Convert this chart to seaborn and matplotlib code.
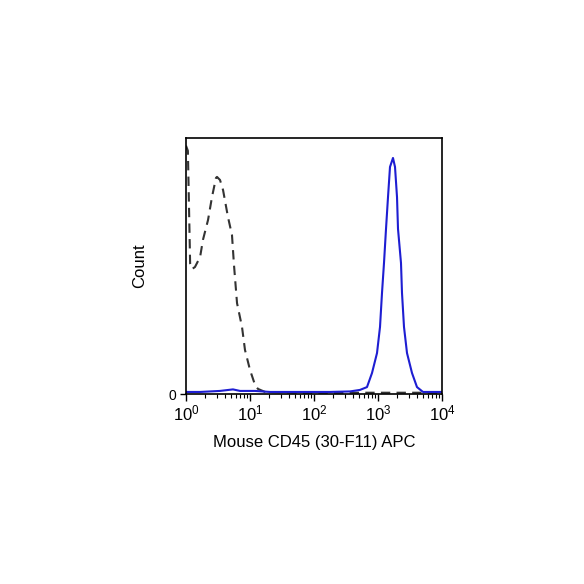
import numpy as np
import pandas as pd
import matplotlib
matplotlib.use("Agg")
import matplotlib.pyplot as plt
from matplotlib.ticker import LogLocator, FixedLocator, NullFormatter, FuncFormatter
import seaborn as sns

# isotype control (dashed gray)
control_intensity = [1.0, 1.07, 1.16, 1.24, 1.38, 1.66, 1.84, 2.21, 2.55, 2.94, 3.05,
                     3.40, 3.79, 4.53, 5.23, 5.62, 6.27, 7.50, 8.35, 10.0, 12.0, 13.3,
                     17.2, 60.0, 10000.0]
control_count = [97.0, 95.0, 51.0, 48.8, 49.6, 53.5, 60.2, 68.0, 77.0, 84.4, 84.8,
                 83.6, 79.7, 69.1, 62.1, 50.4, 35.5, 26.2, 17.2, 9.4, 3.5, 2.0,
                 0.8, 0.5, 0.5]

# CD45 APC stained (blue)
stained_intensity = [1.0, 1.66, 3.40, 5.42, 6.98, 12.0, 20.5, 60.4, 178, 365, 523,
                     673, 806, 965, 1075, 1155, 1241, 1334, 1433, 1540, 1715, 1844,
                     1982, 2054, 2287, 2371, 2548, 2839, 3398, 4067, 5048, 10000]
stained_count = [0.8, 0.8, 1.2, 1.8, 1.2, 1.2, 0.8, 0.8, 0.8, 1.0, 1.6,
                 2.7, 8.2, 16.0, 26.2, 39.5, 51.2, 64.5, 76.9, 88.7, 92.2, 88.7,
                 76.9, 64.5, 51.2, 39.5, 26.2, 16.0, 8.2, 2.7, 0.8, 0.8]

x_ticks = [1, 10, 100, 1000, 10000]
y_ticks = [0]
y_tick_labels = ["0"]

sns.set_style("ticks")
plt.rcParams["font.family"] = ["Liberation Sans", "DejaVu Sans"]
plt.rcParams["mathtext.fontset"] = "custom"
plt.rcParams["mathtext.rm"] = "Liberation Sans"
plt.rcParams["mathtext.it"] = "Liberation Sans"
for k in ["text.color", "axes.labelcolor", "xtick.color", "ytick.color"]:
    plt.rcParams[k] = "black"

ctrl = pd.DataFrame({"x": control_intensity, "y": control_count})
stain = pd.DataFrame({"x": stained_intensity, "y": stained_count})

fig = plt.figure(figsize=(5.84, 5.84), dpi=100)
ax = fig.add_axes([186 / 584, 1 - 394 / 584, 256 / 584, 256 / 584])

sns.lineplot(data=ctrl, x="x", y="y", ax=ax, color="#333333", lw=1.5,
             linestyle=(0, (4.5, 3)), estimator=None)
sns.lineplot(data=stain, x="x", y="y", ax=ax, color="#1e1ed2", lw=1.5,
             estimator=None)

ax.set_xscale("log")
ax.set_xlim(1, 10000)
ax.set_ylim(0, 100)
ax.xaxis.set_major_locator(FixedLocator(x_ticks))
ax.xaxis.set_major_formatter(FuncFormatter(lambda v, p: r"$10^{%d}$" % round(np.log10(v))))
ax.xaxis.set_minor_locator(LogLocator(base=10, subs=np.arange(2, 10)))
ax.xaxis.set_minor_formatter(NullFormatter())
ax.set_yticks(y_ticks)
ax.set_yticklabels(y_tick_labels)

ax.tick_params(axis="x", which="major", direction="out", length=5, width=1, labelsize=12, pad=2)
ax.tick_params(axis="x", which="minor", direction="out", length=3, width=0.8)
ax.tick_params(axis="y", direction="out", length=4, width=1, labelsize=10, pad=3)

for s in ax.spines.values():
    s.set_visible(True)
    s.set_color("black")
    s.set_linewidth(1.2)

ax.set_xlabel("Mouse CD45 (30-F11) APC", fontsize=12)
ax.set_ylabel("Count", fontsize=12)
ax.xaxis.set_label_coords(0.5, -0.16)
ax.yaxis.set_label_coords(-0.15, 0.5)

fig.savefig("out.png", dpi=100)
